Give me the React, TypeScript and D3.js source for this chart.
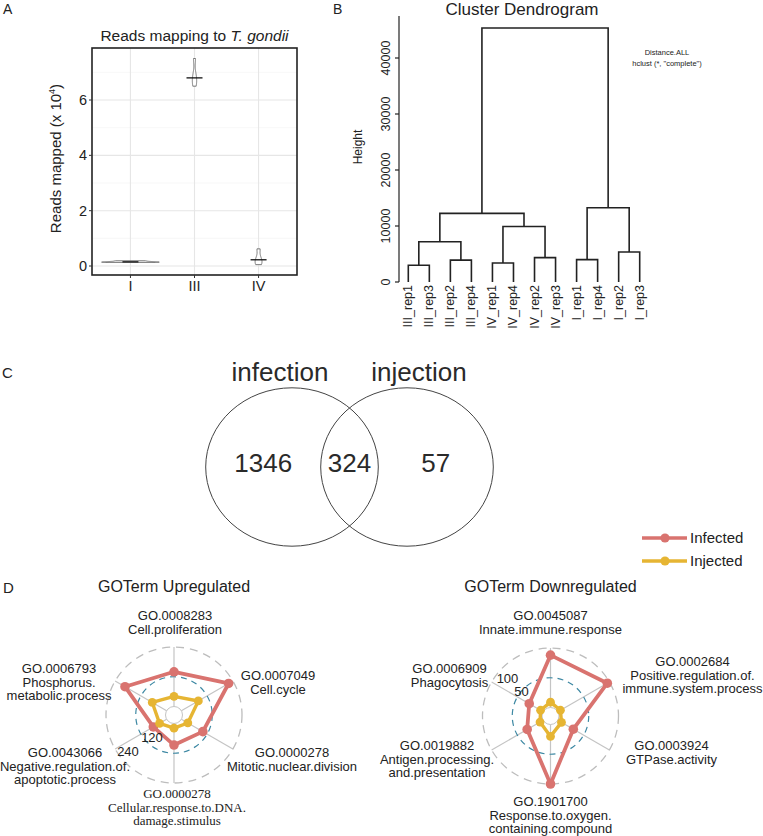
import React from 'react';
import * as d3 from 'd3';

// ---------- Panel A data ----------
const readGroups = ['I', 'III', 'IV'];
const readsI = [0.13, 0.14, 0.16, 0.19];
const readsIII = [6.5, 6.7, 6.9, 7.5];
const readsIV = [0.05, 0.15, 0.3, 0.62];
const readsTicks = [0, 2, 4, 6];

// ---------- Panel B data ----------
const leafLabels = ['III_rep1', 'III_rep3', 'III_rep2', 'III_rep4', 'IV_rep1', 'IV_rep4', 'IV_rep2', 'IV_rep3', 'I_rep1', 'I_rep4', 'I_rep2', 'I_rep3'];
// R hclust style: negative = leaf (1-based), positive = earlier merge (1-based)
const mergeLeft = [-1, -3, 1, -5, -7, 4, 3, -9, -11, 8, 7];
const mergeRight = [-2, -4, 2, -6, -8, 5, 6, -10, -12, 9, 10];
const mergeHeight = [3000, 3900, 7200, 3400, 4350, 9900, 12250, 4000, 5350, 13250, 45350];
const heightTicks = [0, 10000, 20000, 30000, 40000];

// ---------- Panel C data ----------
const vennSets = ['infection', 'injection'];
const vennCounts = [1346, 324, 57];

// ---------- Panel D data ----------
const upTerms = [
  ['GO.0008283', 'Cell.proliferation'],
  ['GO.0007049', 'Cell.cycle'],
  ['GO.0000278', 'Mitotic.nuclear.division'],
  ['GO.0000278', 'Cellular.response.to.DNA.', 'damage.stimulus'],
  ['GO.0043066', 'Negative.regulation.of.', 'apoptotic.process'],
  ['GO.0006793', 'Phosphorus.', 'metabolic.process'],
];
const upInfected = [140, 220, 100, 87, 62, 194];
const upInjected = [41, 79, 30, 19, 33, 67];
const upTicks = [120, 240];

const downTerms = [
  ['GO.0045087', 'Innate.immune.response'],
  ['GO.0002684', 'Positive.regulation.of.', 'immune.system.process'],
  ['GO.0003924', 'GTPase.activity'],
  ['GO.1901700', 'Response.to.oxygen.', 'containing.compound'],
  ['GO.0019882', 'Antigen.processing.', 'and.presentation'],
  ['GO.0006909', 'Phagocytosis'],
];
const downInfected = [88, 96, 30, 100, 31, 27];
const downInjected = [9, 5, 7, 20, 6, 5];
const downTicks = [50, 100];

const seriesNames = ['Infected', 'Injected'];

// ---------- layout / styles ----------
const SANS = '"Liberation Sans", Arial, Helvetica, sans-serif';
const SERIF = '"Liberation Serif", "Times New Roman", serif';
const RED = '#D9736F';
const YELLOW = '#E6B533';
const TXT = '#222';

function densityProfile(vals: number[], n = 120) {
  const s = vals.slice().sort(d3.ascending);
  const sd = d3.deviation(s) || 1;
  const iqr = (d3.quantile(s, 0.75)! - d3.quantile(s, 0.25)!) / 1.34;
  const bw = 0.9 * Math.min(sd, iqr > 0 ? iqr : sd) * Math.pow(s.length, -0.2);
  const lo = s[0], hi = s[s.length - 1];
  const pts: [number, number][] = [];
  for (let i = 0; i < n; i++) {
    const y = lo + ((hi - lo) * i) / (n - 1);
    let dsum = 0;
    for (const v of s) {
      const u = (y - v) / bw;
      dsum += Math.exp(-0.5 * u * u) / Math.sqrt(2 * Math.PI);
    }
    pts.push([y, dsum / (s.length * bw)]);
  }
  return pts;
}

function PanelA() {
  const left = 92, right = 297, top = 48, bottom = 275;
  const x = d3.scalePoint<string>().domain(readGroups).range([left, right]).padding(0.6);
  const y = d3.scaleLinear().domain([-0.325, 7.88]).range([bottom, top]);
  const groups = [readsI, readsIII, readsIV];
  const profiles = groups.map((g) => densityProfile(g));
  const maxD = d3.max(profiles.flat(), (p) => p[1])!;
  const halfMax = 0.45 * x.step();
  const minorTicks = [1, 3, 5, 7];
  return (
    <g>
      <text x={3} y={14} fontSize={14} fontFamily={SANS} fill={TXT}>A</text>
      <text x={(left + right) / 2} y={41} fontSize={15.5} fontFamily={SANS} fill={TXT} textAnchor="middle">
        Reads mapping to <tspan fontStyle="italic">T. gondii</tspan>
      </text>
      <rect x={left} y={top} width={right - left} height={bottom - top} fill="#fff" />
      {minorTicks.map((t) => (
        <line key={'m' + t} x1={left} x2={right} y1={y(t)} y2={y(t)} stroke="#F2F2F2" strokeWidth={0.6} />
      ))}
      {readsTicks.map((t) => (
        <line key={'g' + t} x1={left} x2={right} y1={y(t)} y2={y(t)} stroke="#E6E6E6" strokeWidth={1.1} />
      ))}
      {readGroups.map((g) => (
        <line key={'v' + g} x1={x(g)} x2={x(g)} y1={top} y2={bottom} stroke="#E6E6E6" strokeWidth={1.1} />
      ))}
      {groups.map((g, i) => {
        const cx = x(readGroups[i])!;
        const w = (d: number) => (d / maxD) * halfMax;
        const pr = profiles[i];
        const rightSide = pr.map((p) => [cx + w(p[1]), y(p[0])] as [number, number]);
        const leftSide = pr.slice().reverse().map((p) => [cx - w(p[1]), y(p[0])] as [number, number]);
        const path = d3.line()([...rightSide, ...leftSide]) + 'Z';
        const med = d3.median(g)!;
        return (
          <g key={'vio' + i}>
            <path d={path} fill="#fff" stroke="#444" strokeWidth={0.7} />
            <line x1={cx - 8} x2={cx + 8} y1={y(med)} y2={y(med)} stroke="#111" strokeWidth={1.3} />
          </g>
        );
      })}
      <rect x={left} y={top} width={right - left} height={bottom - top} fill="none" stroke="#222" strokeWidth={1.6} />
      {readsTicks.map((t) => (
        <g key={'yt' + t}>
          <line x1={left - 3} x2={left} y1={y(t)} y2={y(t)} stroke="#333" />
          <text x={left - 5} y={y(t)} dy="0.35em" textAnchor="end" fontSize={14.5} fontFamily={SANS} fill={TXT}>{t}</text>
        </g>
      ))}
      {readGroups.map((g) => (
        <g key={'xt' + g}>
          <line x1={x(g)} x2={x(g)} y1={bottom} y2={bottom + 3} stroke="#333" />
          <text x={x(g)} y={bottom + 16} textAnchor="middle" fontSize={14.5} fontFamily={SANS} fill={TXT}>{g}</text>
        </g>
      ))}
      <text transform={`translate(61,${(top + bottom) / 2 - 3}) rotate(-90)`} textAnchor="middle" fontSize={15} fontFamily={SANS} fill={TXT}>
        Reads mapped (x 10<tspan fontSize={9} dy={-6}>4</tspan><tspan dy={6}>)</tspan>
      </text>
    </g>
  );
}

function PanelB() {
  const x = d3.scalePoint<string>().domain(leafLabels).range([408.3, 639.7]);
  const y = d3.scaleLinear().domain([0, 40000]).range([282, 58]);
  const nodeX: number[] = [];
  const childX = (c: number) => (c < 0 ? x(leafLabels[-c - 1])! : nodeX[c - 1]);
  const childH = (c: number) => (c < 0 ? 0 : mergeHeight[c - 1]);
  const paths: string[] = [];
  mergeHeight.forEach((h, i) => {
    const xl = childX(mergeLeft[i]);
    const xr = childX(mergeRight[i]);
    nodeX.push((xl + xr) / 2);
    paths.push(`M${xl},${y(childH(mergeLeft[i]))}V${y(h)}H${xr}V${y(childH(mergeRight[i]))}`);
  });
  const axisX = 399;
  return (
    <g>
      <text x={333} y={14} fontSize={14} fontFamily={SANS} fill={TXT}>B</text>
      <text x={522} y={15} textAnchor="middle" fontSize={17} fontFamily={SANS} fill={TXT}>Cluster Dendrogram</text>
      <text x={667} y={55} textAnchor="middle" fontSize={7.5} fontFamily={SANS} fill={TXT}>Distance.ALL</text>
      <text x={667} y={65.5} textAnchor="middle" fontSize={7.5} fontFamily={SANS} fill={TXT}>hclust (*, "complete")</text>
      <line x1={axisX} x2={axisX} y1={y(0)} y2={y(47500)} stroke="#222" strokeWidth={1.2} />
      {heightTicks.map((t) => (
        <g key={t}>
          <line x1={axisX - 4} x2={axisX} y1={y(t)} y2={y(t)} stroke="#222" strokeWidth={1.2} />
          <text transform={`translate(${axisX - 9},${y(t)}) rotate(-90)`} textAnchor="middle" fontSize={12.5} fontFamily={SANS} fill={TXT}>{t}</text>
        </g>
      ))}
      <text transform={`translate(362,147) rotate(-90)`} textAnchor="middle" fontSize={12} fontFamily={SANS} fill={TXT}>Height</text>
      {paths.map((p, i) => (
        <path key={i} d={p} fill="none" stroke="#222" strokeWidth={1.6} />
      ))}
      {leafLabels.map((l) => (
        <text key={l} transform={`translate(${x(l)! + 4},285) rotate(-90)`} textAnchor="end" fontSize={12.5} fontFamily={SANS} fill={TXT}>{l}</text>
      ))}
    </g>
  );
}

function PanelC() {
  const cy = 467, rx = 86.3, ry = 79.2;
  const cxs = [292, 407];
  const regionX = [
    (cxs[0] - rx + cxs[1] - rx) / 2,
    (cxs[1] - rx + cxs[0] + rx) / 2,
    (cxs[0] + rx + cxs[1] + rx) / 2,
  ];
  return (
    <g>
      <text x={2} y={378} fontSize={15} fontFamily={SANS} fill={TXT}>C</text>
      {cxs.map((cx, i) => (
        <ellipse key={i} cx={cx} cy={cy} rx={rx} ry={ry} fill="none" stroke="#444" strokeWidth={1} />
      ))}
      {vennSets.map((s, i) => (
        <text key={s} x={cxs[i] + (i === 0 ? -12 : 12)} y={381} textAnchor="middle" fontSize={26} fontFamily={SANS} fill="#2a2a2a">{s}</text>
      ))}
      {vennCounts.map((c, i) => (
        <text key={i} x={regionX[i]} y={471.5} textAnchor="middle" fontSize={26} fontFamily={SANS} fill="#2a2a2a">{c}</text>
      ))}
    </g>
  );
}

type RadarProps = {
  cx: number; cy: number; title: string; terms: string[][];
  infected: number[]; injected: number[]; ticks: number[];
  labelPos: [number, number][]; tickPos: [number, number][]; serifIdx: number;
};

function Radar(p: RadarProps) {
  const R = 68, r0 = 8.5;
  const maxV = p.ticks[p.ticks.length - 1];
  const r = d3.scaleLinear().domain([0, maxV]).range([r0, R]);
  const n = p.terms.length;
  const ang = (i: number) => -Math.PI / 2 + (i * 2 * Math.PI) / n;
  const pt = (i: number, v: number): [number, number] => [p.cx + r(v) * Math.cos(ang(i)), p.cy + r(v) * Math.sin(ang(i))];
  const poly = (vals: number[]) => d3.line().curve(d3.curveLinearClosed)(vals.map((v, i) => pt(i, v)))!;
  const series = [
    { vals: p.infected, color: RED, w: 3.8, rad: 4.8 },
    { vals: p.injected, color: YELLOW, w: 3.4, rad: 4.4 },
  ];
  return (
    <g>
      <text x={p.cx} y={592} textAnchor="middle" fontSize={16} fontFamily={SANS} fill={TXT}>{p.title}</text>
      {p.terms.map((_, i) => {
        const a = pt(i, 0), b = pt(i, maxV);
        return <line key={'ax' + i} x1={a[0]} y1={a[1]} x2={b[0]} y2={b[1]} stroke="#C4C4C4" strokeWidth={1.2} />;
      })}
      <circle cx={p.cx} cy={p.cy} r={r0} fill="none" stroke="#C4C4C4" strokeWidth={1} />
      <circle cx={p.cx} cy={p.cy} r={r(maxV)} fill="none" stroke="#BDBDBD" strokeWidth={1.3} strokeDasharray="8 6" />
      <circle cx={p.cx} cy={p.cy} r={r(p.ticks[0])} fill="none" stroke="#3D88A3" strokeWidth={1.2} strokeDasharray="6 5" />
      {series.map((s, si) => (
        <g key={'s' + si}>
          <path d={poly(s.vals)} fill="none" stroke={s.color} strokeWidth={s.w} strokeLinejoin="round" />
          {s.vals.map((v, i) => {
            const q = pt(i, v);
            return <circle key={i} cx={q[0]} cy={q[1]} r={s.rad} fill={s.color} />;
          })}
        </g>
      ))}
      {p.ticks.map((t, i) => (
        <text key={'t' + t} x={p.cx + p.tickPos[i][0]} y={p.cy + p.tickPos[i][1]} dy="0.35em" textAnchor="middle" fontSize={13} fontFamily={SANS} fill={TXT}>{t}</text>
      ))}
      {p.terms.map((lines, i) => (
        <text key={'l' + i} textAnchor="middle" fontSize={13} fontFamily={i === p.serifIdx ? SERIF : SANS} fill={TXT}>
          {lines.map((ln, k) => (
            <tspan key={k} x={p.cx + p.labelPos[i][0]} y={p.cy + p.labelPos[i][1] + k * 13.6}>{ln}</tspan>
          ))}
        </text>
      ))}
    </g>
  );
}

function Legend() {
  const colors = [RED, YELLOW];
  const ys = [538, 561];
  return (
    <g>
      {seriesNames.map((s, i) => (
        <g key={s}>
          <line x1={642} x2={687} y1={ys[i]} y2={ys[i]} stroke={colors[i]} strokeWidth={3.5} />
          <circle cx={665} cy={ys[i]} r={4.6} fill={colors[i]} />
          <text x={690} y={ys[i]} dy="0.36em" fontSize={15} fontFamily={SANS} fill={TXT}>{s}</text>
        </g>
      ))}
    </g>
  );
}

export default function App() {
  return (
    <svg width={763} height={836} style={{ position: 'absolute', left: 0, top: 0, background: '#fff' }}>
      <rect width={763} height={836} fill="#fff" />
      <PanelA />
      <PanelB />
      <PanelC />
      <text x={3} y={593} fontSize={15} fontFamily={SANS} fill={TXT}>D</text>
      <Legend />
      <Radar
        cx={174} cy={715} title="GOTerm Upregulated" terms={upTerms}
        infected={upInfected} injected={upInjected} ticks={upTicks}
        labelPos={[[1, -95], [104, -35], [118, 42], [3, 83], [-109, 42], [-115, -42]]}
        tickPos={[[-22, 22], [-46, 36]]} serifIdx={3}
      />
      <Radar
        cx={550.5} cy={716} title="GOTerm Downregulated" terms={downTerms}
        infected={downInfected} injected={downInjected} ticks={downTicks}
        labelPos={[[0, -96], [142, -50], [121, 34], [0, 90], [-113.5, 34], [-101, -43]]}
        tickPos={[[-29, -25], [-43, -38]]} serifIdx={-1}
      />
    </svg>
  );
}
